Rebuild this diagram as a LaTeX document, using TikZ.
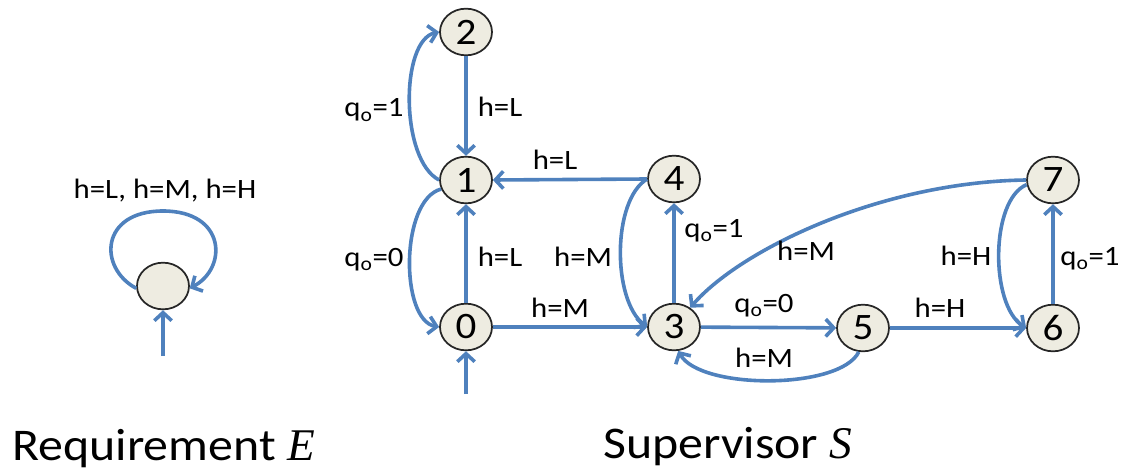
\documentclass[tikz,border=0pt]{standalone}
\usepackage{fontspec}
\setmainfont{Carlito}[FakeStretch=1.1]
\newfontfamily\serifit{Liberation Serif}
\usetikzlibrary{arrows.meta,shapes.geometric}
\definecolor{eblue}{RGB}{79,129,189}
\definecolor{nfill}{RGB}{238,236,225}
\newcommand{\qsub}{q\textsubscript{o}}
\newcommand{\mletter}[1]{{\serifit\itshape #1}}
\begin{document}
\begin{tikzpicture}[x=0.75pt,y=-0.75pt,
  state/.style={ellipse, draw=black!85, line width=1.3pt, fill=nfill,
    minimum width=39pt, minimum height=35pt, inner sep=0pt,
    font=\fontsize{28}{28}\selectfont},
  edge/.style={draw=eblue, line width=2.7pt, -{Straight Barb[length=6pt,width=13pt]}},
  lbl/.style={anchor=base, font=\fontsize{21}{21}\selectfont, inner sep=0pt},
  ttl/.style={anchor=base west, font=\fontsize{34}{34}\selectfont, inner sep=0pt}]
\useasboundingbox (0,0) rectangle (1127,474);
% requirement
\node[state] (E) at (163,286) {};
\coordinate (sE) at (163,356);
\draw[edge] (sE) -- (E);
\draw[edge] (E.185) .. controls (98,268) and (100,211) .. (163,211)
  .. controls (226,211) and (228,268) .. (E.355);
\node[lbl] (lE) at (165,198) {h=L, h=M, h=H};
\node[ttl] (tE) at (12,460) {Requirement \mletter{E}};
% supervisor
\node[state] (n2) at (466,32) {2};
\node[state] (n1) at (466,180) {1};
\node[state] (n0) at (466,327) {0};
\node[state] (n4) at (674,179) {4};
\node[state] (n3) at (674,327) {3};
\node[state] (n5) at (863,328) {5};
\node[state] (n6) at (1053,328) {6};
\node[state] (n7) at (1053,180) {7};
\coordinate (s0) at (466,394);
\draw[edge] (s0) -- (n0);
\draw[edge] (n2) -- (n1);
\draw[edge] (n1.west) .. controls (400,160) and (400,40) .. (n2.west);
\draw[edge] (n0) -- (n1);
\draw[edge] (n1.200) .. controls (400,200) and (400,320) .. (n0.west);
\draw[edge] (n4.west) -- (n1.east);
\draw[edge] (n0) -- (n3);
\draw[edge] (n4.west) .. controls (612,200) and (612,300) .. (n3.west);
\draw[edge] (n3) -- (n4);
\draw[edge] (n7.west) .. controls (880,182) and (740,250) .. (n3.50);
\draw[edge] (n3) -- (n5);
\draw[edge] (n5.260) .. controls (840,390) and (700,390) .. (n3.280);
\draw[edge] (n5) -- (n6);
\draw[edge] (n7.190) .. controls (990,200) and (990,305) .. (n6.west);
\draw[edge] (n6) -- (n7);
% labels
\node[lbl] (l21) at (500,117) {h=L};
\node[lbl] (l12) at (374,117) {\qsub=1};
\node[lbl] (l41) at (555,170) {h=L};
\node[lbl] (l10) at (374,266) {\qsub=0};
\node[lbl] (l01) at (500,266) {h=L};
\node[lbl] (l43) at (583,266) {h=M};
\node[lbl] (l03) at (560,317) {h=M};
\node[lbl] (l34) at (714,237) {\qsub=1};
\node[lbl] (l73) at (806,260) {h=M};
\node[lbl] (l35) at (764,312) {\qsub=0};
\node[lbl] (l53) at (764,367) {h=M};
\node[lbl] (l76) at (966,265) {h=H};
\node[lbl] (l67) at (1090,265) {\qsub=1};
\node[lbl] (l56) at (940,317) {h=H};
\node[ttl] (tS) at (603,458) {Supervisor \mletter{S}};
\end{tikzpicture}
\end{document}
